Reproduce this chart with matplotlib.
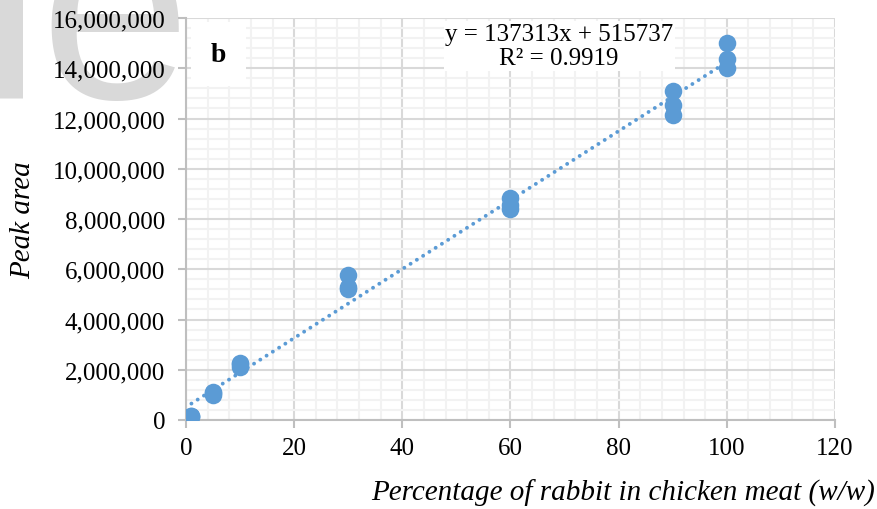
import numpy as np
import matplotlib
matplotlib.use("Agg")
from matplotlib import pyplot as plt
from matplotlib.ticker import MultipleLocator, FuncFormatter

# 数据: 兔肉在鸡肉中的百分比, 峰面积 (每个浓度三次重复)
pct = [1, 1, 1, 5, 5, 5, 10, 10, 10, 30, 30, 30, 60, 60, 60, 90, 90, 90, 100, 100, 100]
peak_area = [150000, 120000, 170000,
             1060000, 1000000, 1100000,
             2230000, 2100000, 2250000,
             5780000, 5290000, 5200000,
             8830000, 8540000, 8380000,
             13080000, 12550000, 12150000,
             15020000, 14350000, 14010000]
slope = 137313
intercept = 515737
r2 = 0.9919

blue = "#5B9BD5"
plt.rcParams["font.family"] = ["Liberation Serif", "DejaVu Serif"]

fig = plt.figure(figsize=(8.78, 5.10), dpi=100)

# 左上角的灰色水印, 放在最底层
fig.text(-0.022, 1 - 98 / 510, "le", family="Liberation Sans", fontsize=195,
         color="#d9d9d9", ha="left", va="baseline", zorder=-5)

ax = fig.add_axes([186 / 878, 1 - 421 / 510, (835 - 186) / 878, (421 - 19) / 510])
ax.set_facecolor("white")

ax.set_xlim(0, 120)
ax.set_ylim(0, 16000000)
ax.xaxis.set_major_locator(MultipleLocator(20))
ax.xaxis.set_minor_locator(MultipleLocator(4))
ax.yaxis.set_major_locator(MultipleLocator(2000000))
ax.yaxis.set_minor_locator(MultipleLocator(400000))
ax.yaxis.set_major_formatter(FuncFormatter(lambda v, p: f"{int(v):,}"))

ax.grid(which="minor", color="#f2f2f2", linewidth=1.5, zorder=0)
ax.grid(which="major", color="#d9d9d9", linewidth=1.5, zorder=0)
ax.set_axisbelow(True)

for s in ["top", "right"]:
    ax.spines[s].set_visible(False)
for s in ["left", "bottom"]:
    ax.spines[s].set_color("#bfbfbf")
    ax.spines[s].set_linewidth(1.5)
ax.tick_params(which="major", length=6, width=1.5, color="#bfbfbf", labelsize=18)
ax.tick_params(axis="y", pad=9)
ax.tick_params(axis="x", pad=6)
ax.tick_params(which="minor", length=0)

# 散点
ax.scatter(pct, peak_area, s=160, color=blue, zorder=3, linewidths=0)

# 趋势线 (圆点虚线)
xl = np.array([min(pct), max(pct)])
ax.plot(xl, slope * xl + intercept, color=blue, linestyle=(0, (0.01, 1.9)),
        linewidth=2.8, dash_capstyle="round", zorder=2)

ax.text(0.575, 0.93, f"y = {slope}x + {intercept}\nR² = {r2}", transform=ax.transAxes,
        ha="center", va="center", fontsize=18, linespacing=1.15, zorder=4,
        bbox=dict(facecolor="white", edgecolor="none", pad=1))

ax.text(0.05, 0.91, "b", transform=ax.transAxes, ha="center", va="center",
        fontsize=20, fontweight="bold", zorder=4,
        bbox=dict(facecolor="white", edgecolor="none", boxstyle="square,pad=0.7"))

ax.set_ylabel("Peak area", fontsize=21, style="italic", labelpad=12)
fig.text(875 / 878, 1 - 493 / 510, "Percentage of rabbit in chicken meat (w/w)",
         fontsize=21, style="italic", ha="right", va="center")

plt.savefig("out.png", dpi=100)
